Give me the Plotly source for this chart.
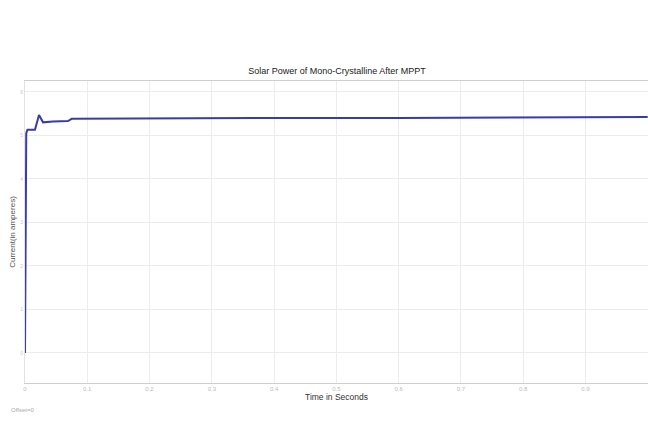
import plotly.graph_objects as go

# Scope trace: PV current after the MPPT stage
time_s = [0.0, 0.0005, 0.002, 0.004, 0.016, 0.0225, 0.029, 0.045, 0.069, 0.075, 0.2, 0.4, 0.6, 0.8, 1.0]
current_a = [0.0, 3.0, 5.05, 5.13, 5.13, 5.47, 5.30, 5.32, 5.33, 5.38, 5.39, 5.40, 5.40, 5.41, 5.42]

x_ticks = [0, 0.1, 0.2, 0.3, 0.4, 0.5, 0.6, 0.7, 0.8, 0.9, 1.0]
y_ticks = [0, 1, 2, 3, 4, 5, 6]

fig = go.Figure()
fig.add_trace(go.Scatter(
    x=time_s, y=current_a, mode="lines",
    line=dict(color="#3b3ba6", width=2),
    showlegend=False,
))

fig.update_layout(
    width=648, height=428,
    margin=dict(l=25, r=0, t=81, b=45),
    paper_bgcolor="white", plot_bgcolor="white",
    font=dict(family="Liberation Sans", color="#333"),
    title=dict(text="Solar Power of Mono-Crystalline After MPPT",
               x=0.52, xanchor="center", y=0.835, yanchor="middle",
               font=dict(size=9, color="#222")),
)
fig.update_xaxes(
    range=[0, 1.0005], tickvals=x_ticks, ticks="", showgrid=True,
    gridcolor="#ececec", gridwidth=1, showline=True, linecolor="#cfcfcf",
    mirror=True, zeroline=False, tickfont=dict(size=6, color="#bbbbbb"),
    title=dict(text="Time in Seconds", font=dict(size=8.5, color="#333"), standoff=2),
)
fig.update_yaxes(
    range=[-0.69, 6.25], tickvals=y_ticks, ticks="", showgrid=True,
    gridcolor="#ececec", gridwidth=1, showline=True, linecolor="#e2e2e2",
    mirror=True, zeroline=False, tickfont=dict(size=5, color="#c8c8c8"),
    title=dict(text="Current(in amperes)", font=dict(size=8, color="#555"), standoff=3),
)
fig.add_annotation(text="Offset=0", x=-0.025, y=-0.09, xref="paper", yref="paper",
                   xanchor="left", yanchor="middle", showarrow=False,
                   font=dict(size=6, color="#aaaaaa"))

fig.write_html("out.html")
